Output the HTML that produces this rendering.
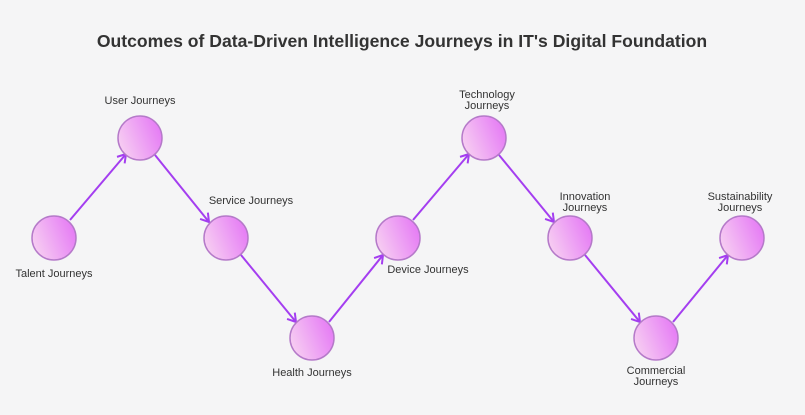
<!DOCTYPE html>
<html><head><style>
body{margin:0;background:#f5f5f6;}
svg text{font-family:"Liberation Sans",sans-serif;fill:#333;}
</style></head><body>
<svg width="805" height="410" viewBox="0 0 805 410" xmlns="http://www.w3.org/2000/svg">
<defs>
<linearGradient id="g" x1="0" y1="0.7" x2="1" y2="0.3">
<stop offset="0" stop-color="#f7d0f2"/><stop offset="1" stop-color="#e57af5"/>
</linearGradient>
<marker id="a" markerWidth="12" markerHeight="12" refX="9" refY="6" orient="auto" markerUnits="userSpaceOnUse">
<path d="M1,1 L9,6 L1,11" fill="none" stroke="#a43ef0" stroke-width="2"/>
</marker>
</defs>
<rect width="805" height="410" fill="#f5f5f6"/>
<text x="402" y="47" text-anchor="middle" font-size="17.6" font-weight="bold" fill="#2b2b2b">Outcomes of Data-Driven Intelligence Journeys in IT's Digital Foundation</text>
<g stroke="#a43ef0" stroke-width="2" marker-end="url(#a)">
<line x1="70" y1="220" x2="126" y2="154"/>
<line x1="155" y1="155" x2="209" y2="222"/>
<line x1="241" y1="255" x2="296" y2="322"/>
<line x1="329" y1="322" x2="383" y2="255"/>
<line x1="413" y1="220" x2="469" y2="154"/>
<line x1="499" y1="155" x2="554" y2="222"/>
<line x1="585" y1="255" x2="640" y2="322"/>
<line x1="673" y1="322" x2="728" y2="255"/>
</g>
<g fill="url(#g)" stroke="#b57ac9" stroke-width="1.5">
<circle cx="54" cy="238" r="22"/>
<circle cx="140" cy="138" r="22"/>
<circle cx="226" cy="238" r="22"/>
<circle cx="312" cy="338" r="22"/>
<circle cx="398" cy="238" r="22"/>
<circle cx="484" cy="138" r="22"/>
<circle cx="570" cy="238" r="22"/>
<circle cx="656" cy="338" r="22"/>
<circle cx="742" cy="238" r="22"/>
</g>
<g font-size="11" text-anchor="middle">
<text x="54" y="277">Talent Journeys</text>
<text x="140" y="104">User Journeys</text>
<text x="251" y="204">Service Journeys</text>
<text x="312" y="376">Health Journeys</text>
<text x="428" y="273">Device Journeys</text>
<text x="487" y="98">Technology</text><text x="487" y="109">Journeys</text>
<text x="585" y="200">Innovation</text><text x="585" y="211">Journeys</text>
<text x="656" y="374">Commercial</text><text x="656" y="385">Journeys</text>
<text x="740" y="200">Sustainability</text><text x="740" y="211">Journeys</text>
</g>
</svg>
</body></html>
